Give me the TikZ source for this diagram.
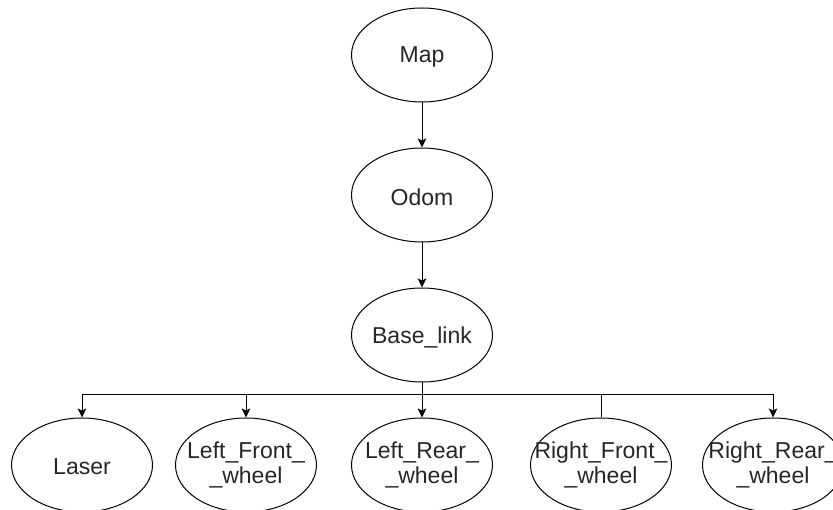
\documentclass[tikz,border=0pt]{standalone}
\usepackage{fontspec}
\setmainfont{Liberation Sans}
\usetikzlibrary{shapes.geometric,arrows.meta}
\begin{document}
\begin{tikzpicture}[x=1pt,y=-1pt,
  ell/.style={draw=black,line width=1pt,ellipse,minimum width=141pt,minimum height=94pt,inner sep=0pt},
  txt/.style={align=center,inner sep=0pt,font=\fontsize{23}{25}\selectfont,text=black!85},
  one/.style={txt,yshift=-2pt},
  conn/.style={draw=black,line width=1pt},
  arr/.style={conn,-{Stealth[length=9pt,width=8.5pt,inset=2pt]}}]
\useasboundingbox (0,0) rectangle (833,510);
\node[ell,label={[one]center:Map}] (map) at (422,55) {};
\node[ell,label={[one]center:Odom}] (odom) at (422,195) {};
\node[ell,label={[one]center:Base\_link}] (base) at (422,335) {};
\node[ell,label={[one]center:Laser}] (laser) at (82,465) {};
\node[ell,label={[txt]center:Left\_Front\_\\\_wheel}] (lf) at (246,465) {};
\node[ell,label={[txt]center:Left\_Rear\_\\\_wheel}] (lr) at (422,465) {};
\node[ell,label={[txt]center:Right\_Front\_\\\_wheel}] (rf) at (601,465) {};
\node[ell,label={[txt]center:Right\_Rear\_\\\_wheel}] (rr) at (773,465) {};
\coordinate (bus) at (422,395);
\draw[arr] (map) -- (odom);
\draw[arr] (odom) -- (base);
\draw[conn] (base) -- (bus);
\draw[arr] (bus) -| (laser.north);
\draw[arr] (bus) -| (lf.north);
\draw[arr] (bus) -- (lr.north);
\draw[conn] (bus) -| (rf.north);
\draw[arr] (bus) -| (rr.north);
\end{tikzpicture}
\end{document}
